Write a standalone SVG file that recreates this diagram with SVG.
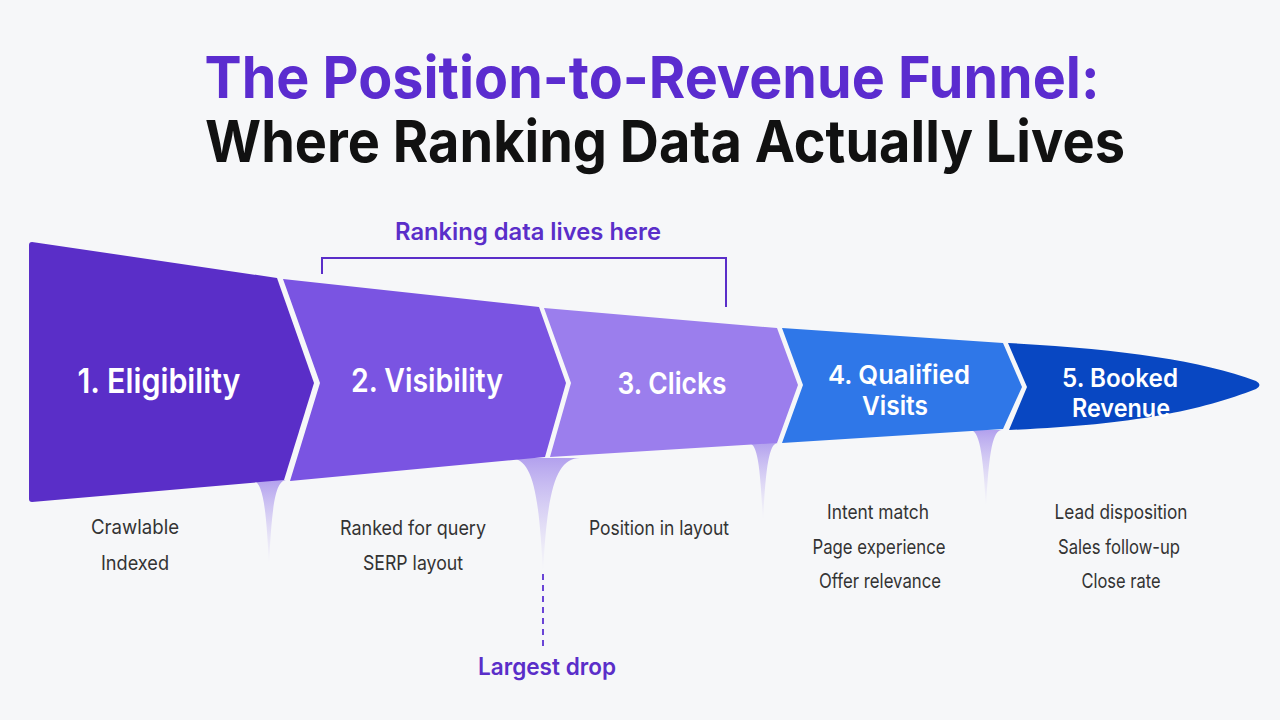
<svg xmlns="http://www.w3.org/2000/svg" width="1280" height="720" viewBox="0 0 1280 720">
  <defs>
    <linearGradient id="drip" x1="0" y1="0" x2="0" y2="1">
      <stop offset="0" stop-color="#9c84ea" stop-opacity="0.75"/>
      <stop offset="1" stop-color="#c8bcf2" stop-opacity="0"/>
    </linearGradient>
    <style>
      .title { font-family: Inter, "Liberation Sans", sans-serif; font-weight: 700; font-size: 58px; text-anchor: middle; }
      .stage { font-family: Inter, Roboto, "Liberation Sans", sans-serif; font-weight: 600; fill: #ffffff; text-anchor: middle; }
      .body { font-family: Inter, Roboto, "Liberation Sans", sans-serif; font-weight: 400; font-size: 20px; fill: #333333; text-anchor: middle; }
      .accent { font-family: Inter, Roboto, "Liberation Sans", sans-serif; font-weight: 600; fill: #5a2ec9; text-anchor: middle; }
      .bracket { fill: none; stroke: #5a2ec9; stroke-width: 2; }
    </style>
  </defs>

  <rect x="0" y="0" width="1280" height="720" fill="#f6f7f9"/>

  <g id="title">
    <text class="title" x="652" y="98" fill="#5b2ccf" textLength="895" lengthAdjust="spacingAndGlyphs">The Position-to-Revenue Funnel:</text>
    <text class="title" x="665" y="162" fill="#111111" textLength="920" lengthAdjust="spacingAndGlyphs">Where Ranking Data Actually Lives</text>
  </g>

  <g id="drips">
    <path d="M251,480 C262,480 266,500 269,566 C272,500 276,480 287,480 Z" fill="url(#drip)"/>
    <path d="M510,458 C532,458 539,490 543,574 C547,490 556,458 580,458 Z" fill="url(#drip)"/>
    <path d="M748,443 C757,443 760,460 763,522 C766,460 770,443 778,443 Z" fill="url(#drip)"/>
    <path d="M970,430 C979,430 983,450 986,508 C989,450 993,430 1002,430 Z" fill="url(#drip)"/>
  </g>

  <g id="stage1">
    <path d="M32,242 L277,278 L314,383 L284,480 L32,502 Q29,502 29,499 L29,245 Q29,242 32,242 Z" fill="#5a2ec8"/>
    <text class="stage" x="159" y="393" font-size="34" textLength="163" lengthAdjust="spacingAndGlyphs">1. Eligibility</text>
  </g>

  <g id="stage2">
    <path d="M283,279 L539,307 L566,383 L545,457 L290,481 L320,383 Z" fill="#7a54e2"/>
    <text class="stage" x="427" y="392" font-size="32" textLength="152" lengthAdjust="spacingAndGlyphs">2. Visibility</text>
  </g>

  <g id="stage3">
    <path d="M544,308 L777,328 L798,385 L777,443 L550,457 L571,383 Z" fill="#9b7eed"/>
    <text class="stage" x="672" y="394" font-size="30" textLength="109" lengthAdjust="spacingAndGlyphs">3. Clicks</text>
  </g>

  <g id="stage4">
    <path d="M782,328 L1003,343 L1022,387 L1003,429 L782,443 L803,385 Z" fill="#2f77e8"/>
    <text class="stage" x="899" y="384" font-size="26" textLength="142" lengthAdjust="spacingAndGlyphs">4. Qualified</text>
    <text class="stage" x="895" y="415" font-size="26" textLength="66" lengthAdjust="spacingAndGlyphs">Visits</text>
  </g>

  <g id="stage5">
    <path d="M1008,343 C1120,349 1200,360 1256,381 Q1263,385 1256,389 C1200,411 1130,425 1009,430 L1027,387 Z" fill="#0847c2"/>
    <text class="stage" x="1120" y="387" font-size="25" textLength="116" lengthAdjust="spacingAndGlyphs">5. Booked</text>
    <text class="stage" x="1121" y="417" font-size="25" textLength="98" lengthAdjust="spacingAndGlyphs">Revenue</text>
  </g>

  <g id="ranking-bracket">
    <path class="bracket" d="M322,274 L322,258 L726,258 L726,307"/>
    <text class="accent" x="528" y="240" font-size="24" textLength="266" lengthAdjust="spacingAndGlyphs">Ranking data lives here</text>
  </g>

  <g id="connectors">
    <line x1="543" y1="574" x2="543" y2="650" stroke="#6a45d6" stroke-width="2" stroke-dasharray="6,5"/>
  </g>

  <g id="largest-drop">
    <text class="accent" x="547" y="675" font-size="24" textLength="138" lengthAdjust="spacingAndGlyphs">Largest drop</text>
  </g>

  <g id="notes1">
    <text class="body" x="135" y="534" textLength="88" lengthAdjust="spacingAndGlyphs">Crawlable</text>
    <text class="body" x="135" y="570" textLength="68" lengthAdjust="spacingAndGlyphs">Indexed</text>
  </g>
  <g id="notes2">
    <text class="body" x="413" y="535" textLength="146" lengthAdjust="spacingAndGlyphs">Ranked for query</text>
    <text class="body" x="413" y="570" textLength="100" lengthAdjust="spacingAndGlyphs">SERP layout</text>
  </g>
  <g id="notes3">
    <text class="body" x="659" y="535" textLength="140" lengthAdjust="spacingAndGlyphs">Position in layout</text>
  </g>
  <g id="notes4">
    <text class="body" x="878" y="519" textLength="102" lengthAdjust="spacingAndGlyphs">Intent match</text>
    <text class="body" x="879" y="554" textLength="133" lengthAdjust="spacingAndGlyphs">Page experience</text>
    <text class="body" x="880" y="588" textLength="122" lengthAdjust="spacingAndGlyphs">Offer relevance</text>
  </g>
  <g id="notes5">
    <text class="body" x="1121" y="519" textLength="133" lengthAdjust="spacingAndGlyphs">Lead disposition</text>
    <text class="body" x="1119" y="554" textLength="122" lengthAdjust="spacingAndGlyphs">Sales follow-up</text>
    <text class="body" x="1121" y="588" textLength="79" lengthAdjust="spacingAndGlyphs">Close rate</text>
  </g>
</svg>
